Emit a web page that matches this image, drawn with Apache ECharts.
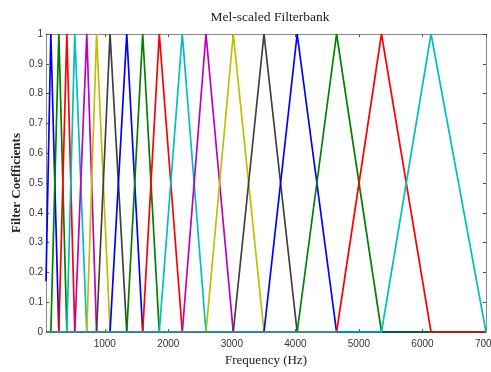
<!DOCTYPE html>
<html>
<head>
<meta charset="utf-8">
<script src="https://cdn.jsdelivr.net/npm/echarts@6/dist/echarts.min.js"></script>
<style>html,body{margin:0;padding:0;background:#fff;}#c{width:491px;height:372px;}</style>
</head>
<body>
<div id="c"></div>
<script>
// Filter peak frequencies (Hz)
const filterCenters = [151, 277, 403, 528, 717, 871, 1083, 1346, 1597, 1858, 2220, 2593, 3022, 3506, 4028, 4648, 5355, 6135];
const freqMin = 75;        // left end of the frequency axis
const freqMax = 7000;      // right end / upper edge of last filter
const firstValueAtMin = 0.17; // first filter value at the left axis end
const xTickValues = [1000, 2000, 3000, 4000, 5000, 6000, 7000];
const palette = ['#0000ff', '#008000', '#ff0000', '#00bfbf', '#bf00bf', '#bfbf00', '#404040'];

const series = filterCenters.map((c, i) => {
  const data = [];
  if (i === 0) {
    data.push([freqMin, firstValueAtMin]);
  } else {
    data.push([freqMin, 0]);
    data.push([filterCenters[i - 1], 0]);
  }
  data.push([c, 1]);
  const next = i < filterCenters.length - 1 ? filterCenters[i + 1] : freqMax;
  data.push([next, 0]);
  if (next < freqMax) data.push([freqMax, 0]);
  return {
    type: 'line', data, showSymbol: false, symbol: 'none',
    lineStyle: { color: palette[i % palette.length], width: 1.7 },
    itemStyle: { color: palette[i % palette.length] },
    z: 2 + i, animation: false
  };
});

const chart = echarts.init(document.getElementById('c'), null, { renderer: 'canvas' });
const tickFont = { fontFamily: 'Liberation Sans, Arial, sans-serif', fontSize: 10, color: '#333' };
chart.setOption({
  animation: false,
  backgroundColor: '#fff',
  title: {
    text: 'Mel-scaled Filterbank', left: 265, top: 5, textAlign: 'center',
    textStyle: { fontFamily: 'Liberation Serif, Times New Roman, serif', fontSize: 13.5, fontWeight: 'normal', color: '#222' }
  },
  grid: { left: 46, right: 5, top: 34, bottom: 40, containLabel: false, outerBoundsMode: 'none' },
  xAxis: [{
    type: 'value', min: freqMin, max: freqMax, position: 'bottom',
    name: 'Frequency (Hz)', nameLocation: 'middle', nameGap: 17,
    nameTextStyle: { fontFamily: 'Liberation Serif, Times New Roman, serif', fontSize: 13, color: '#222' },
    axisLine: { show: true, onZero: false, lineStyle: { color: '#8a8a8a', width: 1 } },
    axisTick: { show: true, inside: true, length: 3, customValues: xTickValues, lineStyle: { color: '#555' } },
    axisLabel: { ...tickFont, margin: 7, customValues: xTickValues, formatter: v => String(v) },
    splitLine: { show: false }
  }, {
    type: 'value', min: freqMin, max: freqMax, position: 'top',
    axisLine: { show: true, onZero: false, lineStyle: { color: '#8a8a8a', width: 1 } },
    axisTick: { show: true, inside: true, length: 3, customValues: xTickValues, lineStyle: { color: '#555' } },
    axisLabel: { show: false }, splitLine: { show: false }
  }],
  yAxis: [{
    type: 'value', min: 0, max: 1, interval: 0.1, position: 'left',
    name: 'Filter Coefficients', nameLocation: 'middle', nameGap: 23, nameMoveOverlap: false,
    nameTextStyle: { fontFamily: 'Liberation Serif, Times New Roman, serif', fontSize: 13, fontWeight: 'bold', color: '#222' },
    axisLine: { show: true, onZero: false, lineStyle: { color: '#8a8a8a', width: 1 } },
    axisTick: { show: true, inside: true, length: 3, lineStyle: { color: '#555' } },
    axisLabel: { ...tickFont, margin: 3, formatter: v => (v === 0 ? '0' : v === 1 ? '1' : v.toFixed(1)) },
    splitLine: { show: false }
  }, {
    type: 'value', min: 0, max: 1, interval: 0.1, position: 'right',
    axisLine: { show: true, onZero: false, lineStyle: { color: '#8a8a8a', width: 1 } },
    axisTick: { show: true, inside: true, length: 3, lineStyle: { color: '#555' } },
    axisLabel: { show: false }, splitLine: { show: false }
  }],
  series
});
</script>
</body>
</html>
